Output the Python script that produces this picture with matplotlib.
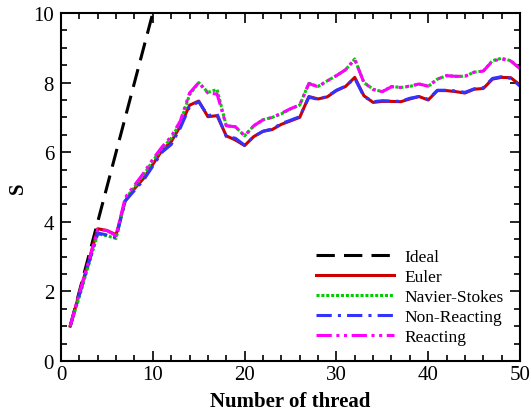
import matplotlib
matplotlib.use("Agg")
import matplotlib.pyplot as plt
from matplotlib.ticker import MultipleLocator

plt.rcParams["font.family"] = ["Liberation Serif", "DejaVu Serif"]
plt.rcParams["mathtext.fontset"] = "stix"

threads = list(range(1, 51))
ideal_x = list(range(1, 11))
ideal_y = list(range(1, 11))

euler = [1.0, 1.95, 2.85, 3.8, 3.75, 3.63, 4.6, 4.95, 5.25, 5.65,
         6.05, 6.3, 6.75, 7.35, 7.47, 7.02, 7.05, 6.47, 6.35, 6.19,
         6.45, 6.6, 6.65, 6.8, 6.9, 7.0, 7.6, 7.53, 7.59, 7.77,
         7.89, 8.15, 7.62, 7.43, 7.46, 7.46, 7.45, 7.53, 7.6, 7.5,
         7.77, 7.77, 7.74, 7.7, 7.81, 7.83, 8.1, 8.15, 8.14, 7.93]
non_reacting = [1.0, 1.9, 2.8, 3.68, 3.62, 3.55, 4.6, 4.9, 5.2, 5.6,
                6.0, 6.22, 6.7, 7.3, 7.45, 7.05, 7.1, 6.45, 6.4, 6.2,
                6.45, 6.6, 6.67, 6.82, 6.92, 7.02, 7.58, 7.52, 7.6, 7.78,
                7.9, 8.12, 7.6, 7.45, 7.48, 7.47, 7.46, 7.55, 7.6, 7.52,
                7.78, 7.78, 7.76, 7.72, 7.82, 7.85, 8.12, 8.17, 8.12, 7.9]
navier_stokes = [1.0, 1.85, 2.75, 3.65, 3.6, 3.52, 4.65, 5.0, 5.35, 5.75,
                 6.1, 6.4, 6.85, 7.65, 8.0, 7.72, 7.8, 6.76, 6.73, 6.47,
                 6.76, 6.93, 7.0, 7.1, 7.24, 7.35, 7.98, 7.89, 8.05, 8.2,
                 8.37, 8.68, 8.0, 7.81, 7.74, 7.89, 7.86, 7.89, 7.96, 7.89,
                 8.1, 8.2, 8.18, 8.18, 8.3, 8.33, 8.63, 8.7, 8.63, 8.4]
reacting = [1.0, 1.95, 2.85, 3.78, 3.75, 3.6, 4.7, 5.05, 5.4, 5.8,
            6.15, 6.45, 6.9, 7.7, 8.0, 7.7, 7.67, 6.76, 6.73, 6.47,
            6.76, 6.93, 7.0, 7.12, 7.25, 7.36, 7.97, 7.88, 8.05, 8.2,
            8.37, 8.66, 8.0, 7.8, 7.74, 7.88, 7.86, 7.9, 7.96, 7.9,
            8.1, 8.2, 8.18, 8.18, 8.3, 8.33, 8.62, 8.68, 8.62, 8.4]

fig = plt.figure(figsize=(5.31, 4.14), dpi=100)
ax = fig.add_axes([0.1149, 0.1256, 0.8644, 0.8406])

lw = 2.2
ax.plot(ideal_x, ideal_y, color="black", lw=lw, dashes=(6, 3), label="Ideal")
ax.plot(threads, euler, color="#cc0000", lw=lw, label="Euler")
ax.plot(threads, navier_stokes, color="#00cc00", lw=lw, dashes=(1, 0.6), label="Navier-Stokes")
ax.plot(threads, non_reacting, color="#3333ff", lw=lw, dashes=(5, 2, 1, 2), label="Non-Reacting")
ax.plot(threads, reacting, color="#ff00ff", lw=lw, dashes=(5, 1.5, 1, 1.5, 1, 1.5), label="Reacting")

ax.set_xlim(0, 50)
ax.set_ylim(0, 10)
ax.xaxis.set_major_locator(MultipleLocator(10))
ax.xaxis.set_minor_locator(MultipleLocator(2))
ax.yaxis.set_major_locator(MultipleLocator(2))
ax.yaxis.set_minor_locator(MultipleLocator(0.5))
ax.tick_params(which="both", direction="in", top=True, right=True, labelsize=15, width=1.2)
ax.tick_params(which="major", length=7)
ax.tick_params(which="minor", length=4)
ax.tick_params(axis="x", which="major", pad=3)
ax.tick_params(axis="y", which="major", pad=5)
for spine in ax.spines.values():
    spine.set_linewidth(1.5)

ax.set_xlabel("Number of thread", fontsize=15, fontweight="bold", labelpad=5)
ax.set_ylabel("S", fontsize=15, fontweight="bold", labelpad=4)

ax.legend(loc="lower right", frameon=False, fontsize=12.5, handlelength=4.5,
          handletextpad=0.6, labelspacing=0.22, bbox_to_anchor=(0.998, 0.0))

fig.savefig("out.png", dpi=100)
